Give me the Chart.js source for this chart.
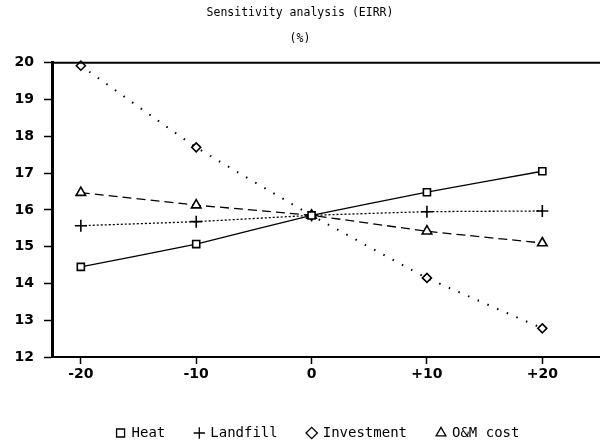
<!DOCTYPE html>
<html>
<head>
<meta charset="utf-8">
<script src="https://cdn.jsdelivr.net/npm/chart.js@4/dist/chart.umd.min.js"></script>
<style>
  html, body { margin: 0; padding: 0; background: #fff; }
  #wrap { width: 600px; height: 442px; }
</style>
</head>
<body>
<div id="wrap"><canvas id="chart"></canvas></div>
<script>
// Chart data
var changes = [-20, -10, 0, 10, 20];
var changeLabels = ['-20', '-10', '0', '+10', '+20'];
var heat = [14.45, 15.07, 15.85, 16.48, 17.05];
var landfill = [15.57, 15.68, 15.85, 15.95, 15.97];
var investment = [19.92, 17.7, 15.85, 14.15, 12.78];
var omCost = [16.47, 16.13, 15.85, 15.42, 15.1];

function toPoints(values) {
  return values.map(function (v, i) { return { x: changes[i], y: v }; });
}

// Draw the top frame line of the plot area
var topFrame = {
  id: 'topFrame',
  afterLayout: function (chart) {
    // legend sits a little right of centre in the original
    if (chart.legend) {
      chart.legend.left += 18;
      chart.legend.right += 18;
    }
  },
  afterDraw: function (chart) {
    var a = chart.chartArea, c = chart.ctx;
    c.save();
    c.strokeStyle = '#000';
    c.lineWidth = 2;
    c.beginPath();
    c.moveTo(a.left, a.top);
    c.lineTo(a.right, a.top);
    c.stroke();
    c.restore();
  }
};

var mono = 'DejaVu Sans Mono';
var sans = 'DejaVu Sans';
Chart.defaults.font.family = mono;
Chart.defaults.font.size = 12;
Chart.defaults.color = '#000';

var ctx = document.getElementById('chart');

var base = {
  borderColor: '#000',
  pointBorderColor: '#000',
  pointBackgroundColor: '#fff',
  borderWidth: 1.3,
  pointRadius: 5,
  pointBorderWidth: 1.6,
  tension: 0.1,
  clip: false
};

var data = {
  datasets: [
    Object.assign({}, base, { label: 'Heat', data: toPoints(heat), pointStyle: 'rect', pointRadius: 5 }),
    Object.assign({}, base, { label: 'Landfill', data: toPoints(landfill), pointStyle: 'cross', borderDash: [2, 2], pointRadius: 6 }),
    Object.assign({}, base, { label: 'Investment', data: toPoints(investment), pointStyle: 'rectRot', borderDash: [1.5, 9], borderWidth: 2, pointRadius: 4.5 }),
    Object.assign({}, base, { label: 'O&M cost', data: toPoints(omCost), pointStyle: 'triangle', borderDash: [9, 5], pointRadius: 5.5 })
  ]
};

var config = {
  type: 'line',
  data: data,
  options: {
    responsive: true,
    maintainAspectRatio: false,
    animation: false,
    layout: { autoPadding: false, padding: { top: 0, right: 0, left: 0, bottom: -8 } },
    plugins: {
      title: {
        display: true,
        text: ['Sensitivity analysis (EIRR)', '(%)'],
        font: { family: mono, size: 11.5, weight: 'normal', lineHeight: 2.25 },
        padding: { top: 0, bottom: 11 }
      },
      legend: {
        position: 'bottom',
        labels: {
          usePointStyle: true,
          boxWidth: 8,
          boxHeight: 8,
          padding: 30,
          font: { family: mono, size: 14 },
          generateLabels: function (chart) {
            return chart.data.datasets.map(function (ds, i) {
              return {
                text: ds.label,
                pointStyle: ds.pointStyle,
                strokeStyle: '#000',
                fillStyle: '#fff',
                lineWidth: 1.3,
                datasetIndex: i
              };
            });
          }
        }
      },
      tooltip: { enabled: false }
    },
    scales: {
      x: {
        type: 'linear',
        min: -22.5,
        max: 25,
        afterBuildTicks: function (scale) {
          scale.ticks = changes.map(function (v) { return { value: v }; });
        },
        afterFit: function (scale) {
          scale.height = 39;
          scale.paddingLeft = 0;
          scale.paddingRight = 0;
        },
        ticks: {
          padding: 2,
          font: { family: sans, size: 14, weight: 'bold' },
          callback: function (value) {
            var i = changes.indexOf(value);
            return i >= 0 ? changeLabels[i] : '';
          }
        },
        grid: { drawOnChartArea: false, color: '#000', tickLength: 7, tickWidth: 1.5 },
        border: { color: '#000', width: 2 }
      },
      y: {
        min: 12,
        max: 20,
        afterFit: function (scale) { scale.width = 52; },
        ticks: { stepSize: 1, padding: 10, font: { family: sans, size: 14, weight: 'bold' } },
        grid: { drawOnChartArea: false, color: '#000', tickLength: 8, tickWidth: 1.5 },
        border: { color: '#000', width: 3 }
      }
    }
  },
  plugins: [topFrame]
};

var myChart = new Chart(ctx, config);
</script>
</body>
</html>
